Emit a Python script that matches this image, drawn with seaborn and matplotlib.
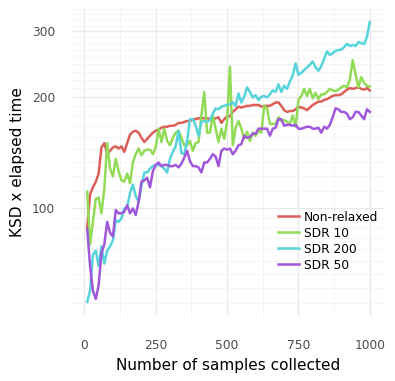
import numpy as np
import pandas as pd
import seaborn as sns
from matplotlib import pyplot as plt
from matplotlib.ticker import FixedLocator, NullFormatter

# samples collected (x axis)
samples = list(range(10, 1001, 10))

non_relaxed = [89, 109, 114, 118, 124, 146, 150, 140, 143, 146,
               147, 145, 147, 142, 150, 158, 161, 162, 160, 155,
               151, 154, 157, 160, 162, 163, 165, 166, 166, 167,
               167, 168, 170, 170, 171, 172, 172, 174, 174, 175,
               175, 175, 175, 174, 173, 175, 176, 170, 174, 177,
               177, 182, 185, 188, 187, 188, 189, 189, 190, 190,
               190, 188, 189, 189, 189, 191, 193, 193, 189, 184,
               182, 183, 183, 185, 188, 187, 186, 184, 187, 190,
               192, 194, 194, 196, 197, 199, 201, 202, 202, 203,
               206, 209, 211, 210, 211, 212, 210, 209, 211, 208]

sdr_10 = [111, 80, 92, 106, 107, 97, 113, 150, 128, 122,
          136, 126, 119, 118, 124, 117, 133, 140, 145, 139,
          143, 144, 144, 140, 146, 164, 151, 164, 152, 148,
          155, 160, 162, 155, 148, 148, 152, 143, 150, 151,
          178, 206, 160, 160, 178, 164, 151, 164, 154, 172,
          241, 148, 165, 172, 164, 154, 161, 152, 160, 157,
          162, 160, 189, 186, 169, 169, 169, 176, 172, 173,
          171, 169, 178, 166, 196, 201, 210, 201, 210, 198,
          205, 197, 203, 203, 206, 210, 208, 207, 209, 212,
          214, 212, 222, 251, 230, 212, 226, 218, 214, 213]

sdr_200 = [56, 60, 75, 77, 70, 79, 71, 77, 79, 82,
           93, 92, 94, 100, 101, 110, 116, 108, 104, 115,
           125, 125, 128, 130, 131, 131, 130, 128, 125, 136,
           142, 147, 162, 141, 140, 152, 174, 174, 167, 157,
           171, 172, 171, 173, 180, 186, 185, 188, 189, 190,
           191, 193, 189, 204, 193, 200, 212, 206, 199, 202,
           196, 200, 201, 199, 203, 208, 206, 216, 206, 214,
           210, 220, 228, 246, 229, 232, 236, 240, 244, 249,
           240, 235, 242, 253, 265, 259, 262, 266, 267, 268,
           272, 278, 274, 276, 274, 281, 279, 277, 290, 318]

sdr_50 = [88, 70, 60, 57, 62, 76, 80, 92, 86, 84,
          99, 97, 97, 98, 102, 97, 100, 96, 104, 118,
          119, 121, 114, 126, 131, 133, 130, 131, 131, 130,
          130, 131, 129, 132, 137, 143, 134, 130, 130, 129,
          125, 133, 133, 136, 140, 138, 130, 143, 145, 144,
          145, 140, 143, 148, 149, 157, 155, 156, 159, 159,
          164, 164, 164, 164, 157, 164, 165, 174, 174, 167,
          168, 168, 167, 168, 164, 164, 165, 166, 166, 164,
          164, 165, 160, 166, 164, 168, 176, 186, 185, 182,
          182, 180, 174, 176, 182, 182, 178, 174, 185, 182]

series_names = ['Non-relaxed', 'SDR 10', 'SDR 200', 'SDR 50']
series_values = [non_relaxed, sdr_10, sdr_200, sdr_50]

y_ticks = [100, 200, 300]
x_ticks = [0, 250, 500, 750, 1000]

df = pd.concat([pd.DataFrame({'samples': samples, 'value': vals, 'method': name})
                for name, vals in zip(series_names, series_values)])

plt.rcParams['font.family'] = ['DejaVu Sans']
fig = plt.figure(figsize=(3.95, 3.81), dpi=100)
ax = fig.add_axes([0.185, 0.171, 0.787, 0.808])

sns.lineplot(data=df, x='samples', y='value', hue='method', hue_order=series_names,
             palette=sns.color_palette('hls', 4), linewidth=1.8, ax=ax)

# log scale y, with ggplot-like 5% expansion
ax.set_yscale('log')
lo, hi = np.log10(df['value'].min()), np.log10(df['value'].max())
pad = (hi - lo) * 0.05
ax.set_ylim(10 ** (lo - pad), 10 ** (hi + pad))
xpad = (max(samples) - min(samples)) * 0.05
ax.set_xlim(min(samples) - xpad, max(samples) + xpad)

ax.set_yticks(y_ticks)
ax.set_yticklabels([str(t) for t in y_ticks])
minor_y = np.concatenate([np.linspace(a, b, 10)[1:-1] for a, b in [(50, 100), (100, 200), (200, 300), (300, 400)]])
ax.yaxis.set_minor_locator(FixedLocator(minor_y))
ax.yaxis.set_minor_formatter(NullFormatter())
ax.set_xticks(x_ticks)
ax.xaxis.set_minor_locator(FixedLocator([125, 375, 625, 875]))

ax.grid(which='major', color='#e8e8e8', linewidth=0.9)
ax.grid(which='minor', color='#f4f4f4', linewidth=0.6)
ax.set_axisbelow(True)
for s in ax.spines.values():
    s.set_visible(False)
ax.tick_params(which='both', length=0)
ax.tick_params(axis='y', labelsize=8.8, labelcolor='#4d4d4d', pad=13)
ax.tick_params(axis='x', labelsize=8.8, labelcolor='#4d4d4d', pad=17)

ax.set_xlabel('Number of samples collected', fontsize=11, labelpad=4)
ax.set_ylabel('KSD x elapsed time', fontsize=11, labelpad=5)

ax.legend(title=None, frameon=False, fontsize=8.8, loc='upper left',
          bbox_to_anchor=(0.645, 0.358), handlelength=1.7, handletextpad=0.4,
          labelspacing=0.25, borderaxespad=0)

fig.savefig('out.png', dpi=100)
